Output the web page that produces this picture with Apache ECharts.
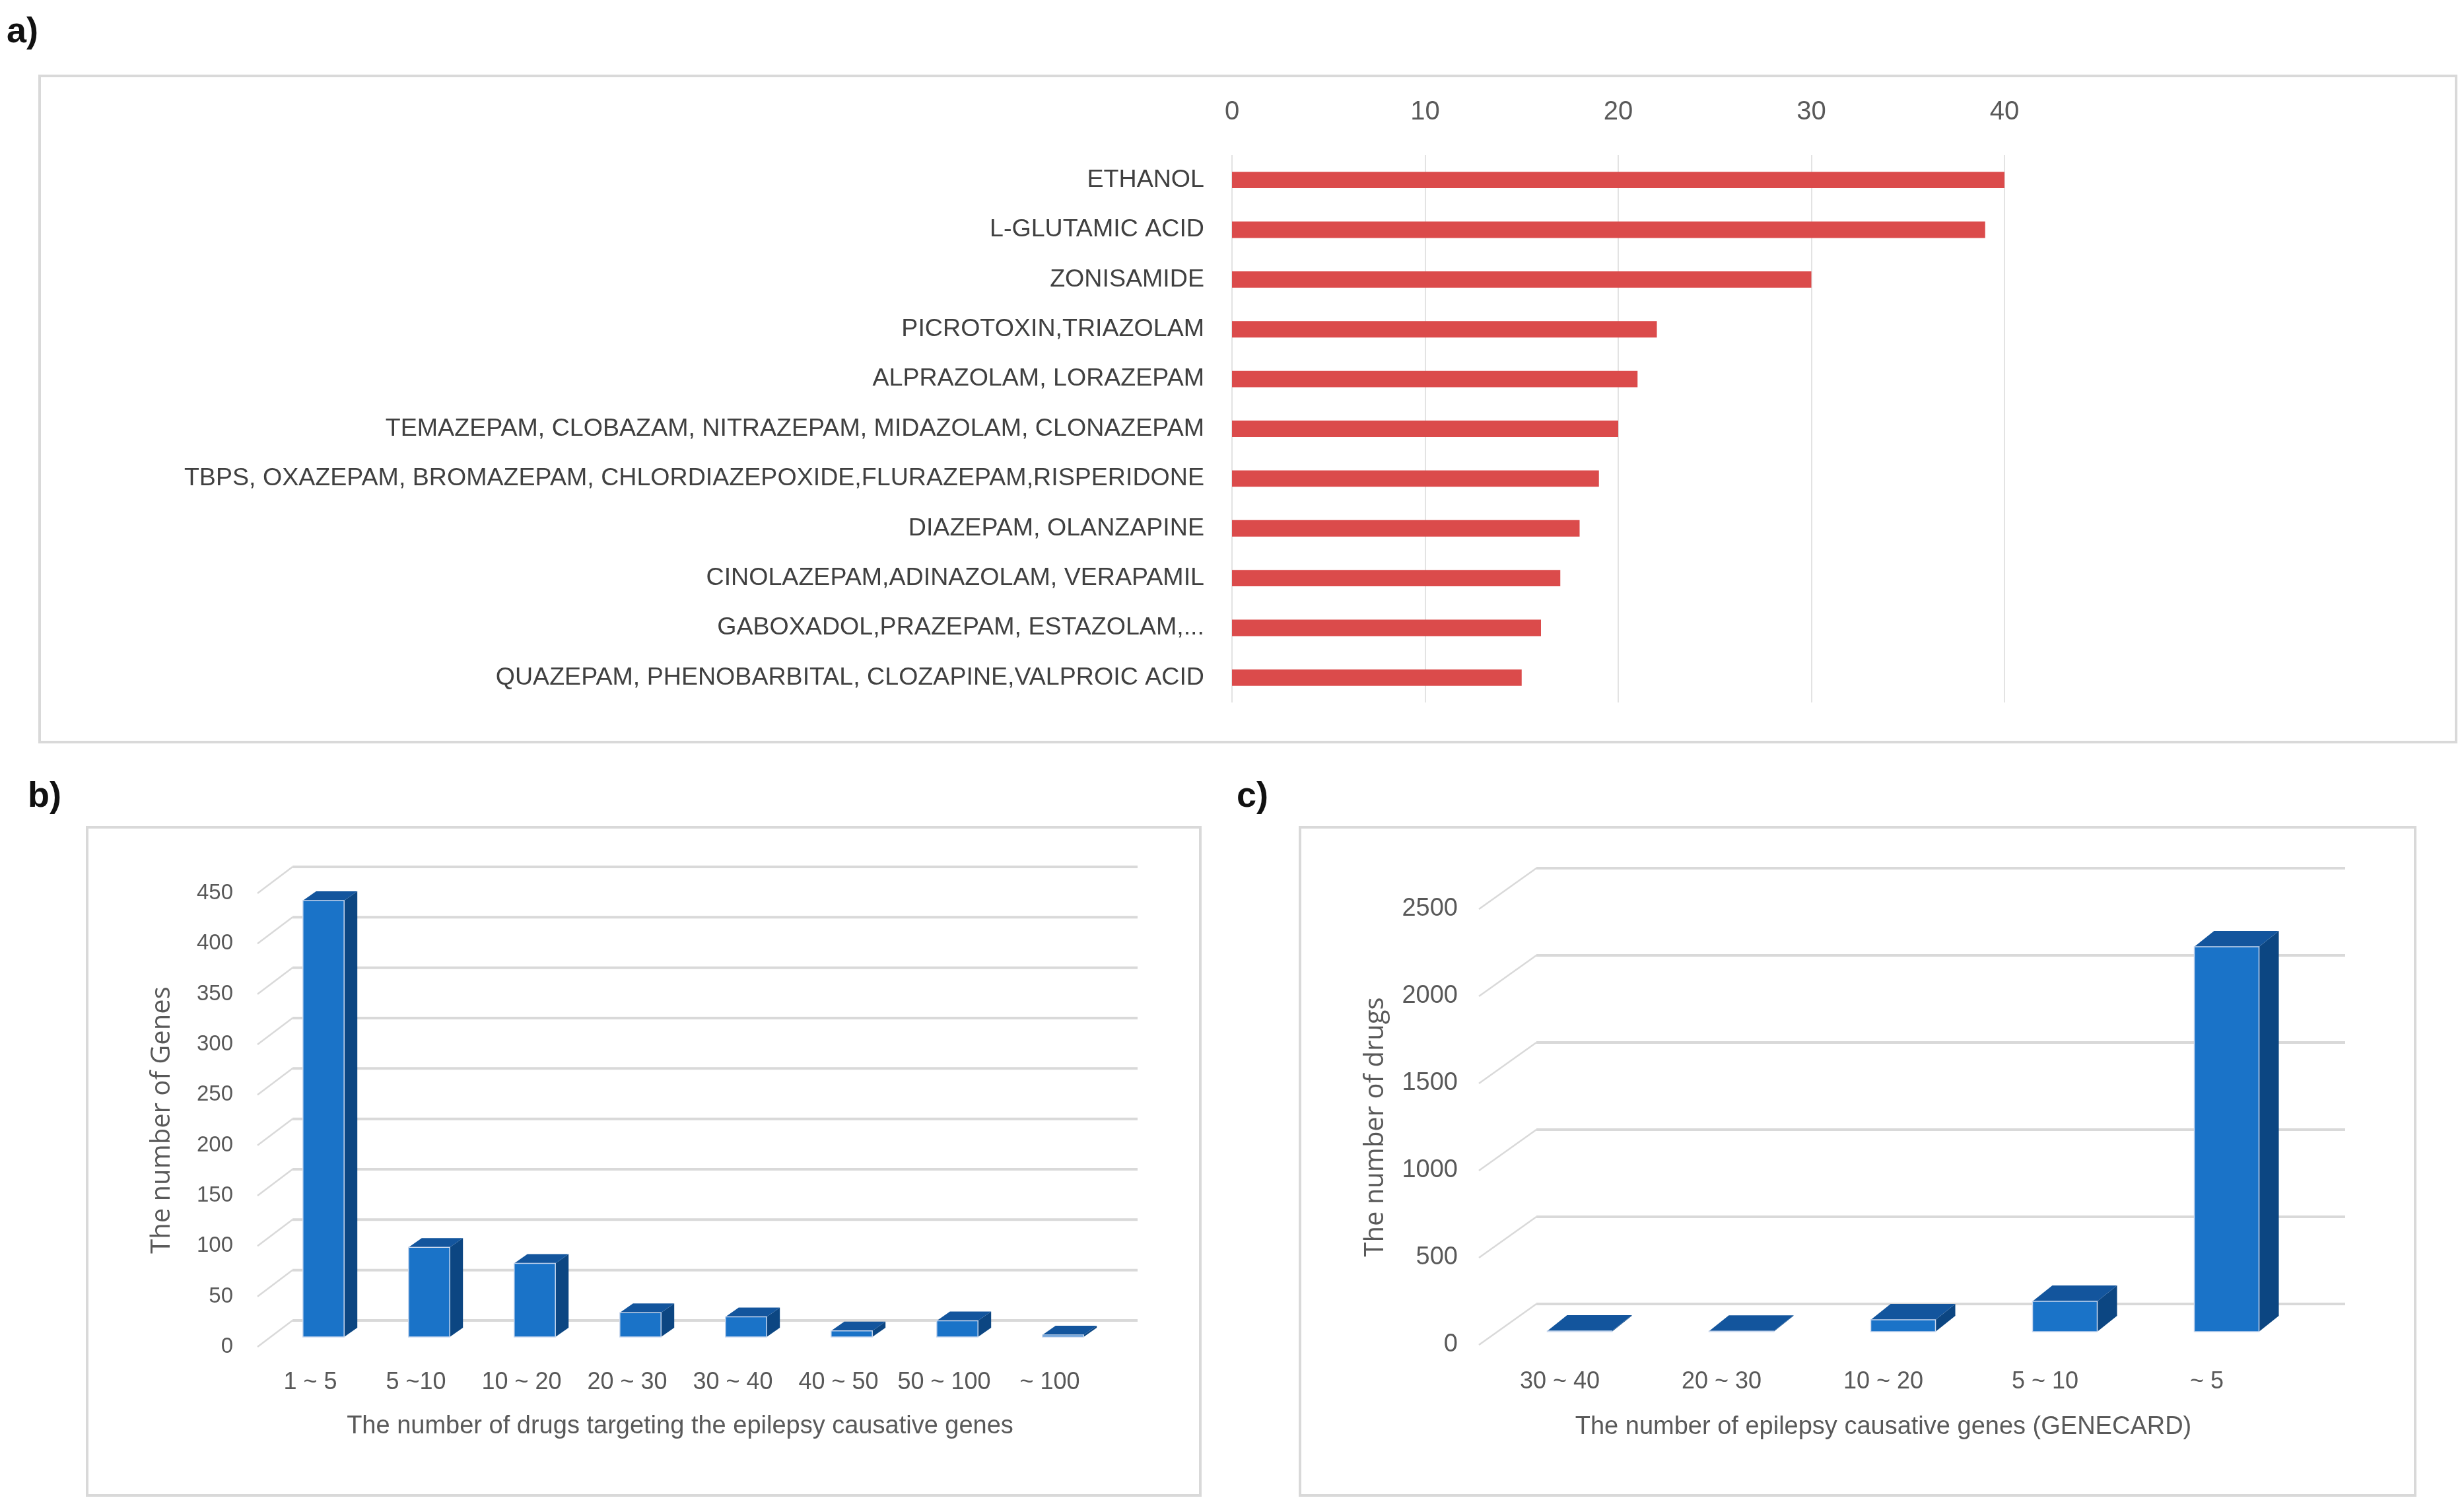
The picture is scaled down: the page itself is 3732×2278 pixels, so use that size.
<!DOCTYPE html>
<html>
<head>
<meta charset="utf-8">
<script src="https://cdn.jsdelivr.net/npm/echarts@6/dist/echarts.min.js"></script>
<style>
html,body{margin:0;padding:0;background:#fff;}
#main{width:3732px;height:2278px;}
</style>
</head>
<body>
<div id="main"></div>
<script>
// ---------- DATA ----------
const aCategories = [
  'ETHANOL',
  'L-GLUTAMIC ACID',
  'ZONISAMIDE',
  'PICROTOXIN,TRIAZOLAM',
  'ALPRAZOLAM, LORAZEPAM',
  'TEMAZEPAM, CLOBAZAM, NITRAZEPAM, MIDAZOLAM, CLONAZEPAM',
  'TBPS, OXAZEPAM, BROMAZEPAM, CHLORDIAZEPOXIDE,FLURAZEPAM,RISPERIDONE',
  'DIAZEPAM, OLANZAPINE',
  'CINOLAZEPAM,ADINAZOLAM, VERAPAMIL',
  'GABOXADOL,PRAZEPAM, ESTAZOLAM,...',
  'QUAZEPAM, PHENOBARBITAL, CLOZAPINE,VALPROIC ACID'
];
const aValues = [40, 39, 30, 22, 21, 20, 19, 18, 17, 16, 15];

const bCategories = ['1 ~ 5', '5 ~10', '10 ~ 20', '20 ~ 30', '30 ~ 40', '40 ~ 50', '50 ~ 100', '~ 100'];
const bValues = [433, 89, 73, 24, 20, 6, 16, 2];
const bTicks = [0, 50, 100, 150, 200, 250, 300, 350, 400, 450];

const cCategories = ['30 ~ 40', '20 ~ 30', '10 ~ 20', '5 ~ 10', '~ 5'];
const cValues = [4, 3, 68, 174, 2208];
const cTicks = [0, 500, 1000, 1500, 2000, 2500];

// ---------- STYLE ----------
const FONT = "'Liberation Sans', Arial, sans-serif";
const TITLE_FONT = "'Open Sans', 'DejaVu Sans', sans-serif";
const GRID_COLOR = '#d9d9d9';
const FRONT = '#1a73c8', SIDE = '#0c4682', TOP = '#13559d';

function wallRender(W, n) {
  return function (params, api) {
    const v = api.value(1);
    const p = api.coord([0, v]);
    const band = api.size([1, 0])[0];
    const xl = p[0] - band / 2;
    const xr = xl + band * n;
    return {
      type: 'group',
      children: [
        { type: 'line', shape: { x1: xl, y1: p[1], x2: xl + W[0], y2: p[1] + W[1] },
          style: { stroke: GRID_COLOR, lineWidth: 2.5 } },
        { type: 'line', shape: { x1: xl + W[0], y1: p[1] + W[1], x2: xr + W[0], y2: p[1] + W[1] },
          style: { stroke: GRID_COLOR, lineWidth: 4 } }
      ]
    };
  };
}

function barRender(F, D, frac) {
  return function (params, api) {
    const i = api.value(0), v = api.value(1);
    const base = api.coord([i, 0]);
    const top = api.coord([i, v]);
    const band = api.size([1, 0])[0];
    const w = band * frac;
    const x0 = base[0] + F[0] - w / 2, x1 = x0 + w;
    const yb = base[1] + F[1], yt = top[1] + F[1];
    return {
      type: 'group',
      children: [
        { type: 'polygon', shape: { points: [[x1, yt], [x1 + D[0], yt + D[1]], [x1 + D[0], yb + D[1]], [x1, yb]] },
          style: { fill: SIDE } },
        { type: 'polygon', shape: { points: [[x0, yt], [x0 + D[0], yt + D[1]], [x1 + D[0], yt + D[1]], [x1, yt]] },
          style: { fill: TOP } },
        { type: 'rect', shape: { x: x0, y: yt, width: w, height: Math.max(yb - yt, 0.5) },
          style: { fill: FRONT, stroke: '#c9d8ee', lineWidth: 1.5 } }
      ]
    };
  };
}

const chart = echarts.init(document.getElementById('main'), null, { renderer: 'canvas' });

const plain = v => String(v);

const option = {
  backgroundColor: '#ffffff',
  animation: false,
  graphic: [
    { type: 'rect', shape: { x: 60, y: 115, width: 3660, height: 1009 }, style: { fill: 'none', stroke: GRID_COLOR, lineWidth: 4 }, z: -10 },
    { type: 'rect', shape: { x: 132, y: 1253, width: 1686, height: 1012 }, style: { fill: 'none', stroke: GRID_COLOR, lineWidth: 4 }, z: -10 },
    { type: 'rect', shape: { x: 1969, y: 1253, width: 1689, height: 1012 }, style: { fill: 'none', stroke: GRID_COLOR, lineWidth: 4 }, z: -10 },
    { type: 'text', left: 10, top: 22, style: { text: 'a)', font: "bold 54px " + FONT, fill: '#111' } },
    { type: 'text', left: 42, top: 1180, style: { text: 'b)', font: "bold 54px " + FONT, fill: '#111' } },
    { type: 'text', left: 1873, top: 1180, style: { text: 'c)', font: "bold 54px " + FONT, fill: '#111' } }
  ],
  grid: [
    { left: 1866, top: 235, width: 1170, height: 829, outerBoundsMode: 'none' },
    { left: 390, top: 1353, width: 1280, height: 687, outerBoundsMode: 'none' },
    { left: 2240, top: 1377, width: 1225, height: 660, outerBoundsMode: 'none' }
  ],
  xAxis: [
    {
      gridIndex: 0, type: 'value', position: 'top', min: 0, max: 40, interval: 10,
      axisLine: { show: false }, axisTick: { show: false },
      axisLabel: { fontFamily: FONT, fontSize: 40, color: '#595959', margin: 45 },
      splitLine: { show: true, lineStyle: { color: '#e3e3e3', width: 2 } }
    },
    {
      gridIndex: 1, type: 'category', data: bCategories,
      axisLine: { show: false }, axisTick: { show: false },
      axisLabel: { interval: 0, fontFamily: FONT, fontSize: 36, color: '#595959', margin: 36 },
      splitLine: { show: false },
      name: 'The number of drugs targeting the epilepsy causative genes',
      nameLocation: 'middle', nameGap: 102,
      nameTextStyle: { fontFamily: FONT, fontSize: 38, color: '#595959' }
    },
    {
      gridIndex: 2, type: 'category', data: cCategories,
      axisLine: { show: false }, axisTick: { show: false },
      axisLabel: { interval: 0, fontFamily: FONT, fontSize: 36, color: '#595959', margin: 38 },
      splitLine: { show: false },
      name: 'The number of epilepsy causative genes (GENECARD)',
      nameLocation: 'middle', nameGap: 106,
      nameTextStyle: { fontFamily: FONT, fontSize: 38, color: '#595959' }
    }
  ],
  yAxis: [
    {
      gridIndex: 0, type: 'category', data: aCategories, inverse: true,
      axisLine: { show: false }, axisTick: { show: false },
      axisLabel: { interval: 0, fontFamily: FONT, fontSize: 37.6, color: '#404040', margin: 42 },
      splitLine: { show: false }
    },
    {
      gridIndex: 1, type: 'value', min: 0, max: 450, interval: 50,
      axisLine: { show: false }, axisTick: { show: false },
      axisLabel: { fontFamily: FONT, fontSize: 33, color: '#595959', margin: 37, formatter: plain },
      splitLine: { show: false },
      name: 'The number of Genes', nameLocation: 'middle', nameGap: 124,
      nameTextStyle: { fontFamily: TITLE_FONT, fontSize: 40, color: '#595959' }
    },
    {
      gridIndex: 2, type: 'value', min: 0, max: 2500, interval: 500,
      axisLine: { show: false }, axisTick: { show: false },
      axisLabel: { fontFamily: FONT, fontSize: 38, color: '#595959', margin: 32, formatter: plain },
      splitLine: { show: false },
      name: 'The number of drugs', nameLocation: 'middle', nameGap: 136,
      nameTextStyle: { fontFamily: TITLE_FONT, fontSize: 40, color: '#595959' }
    }
  ],
  series: [
    {
      type: 'bar', xAxisIndex: 0, yAxisIndex: 0, data: aValues,
      barWidth: '33%', itemStyle: { color: '#db4b4b' }
    },
    {
      type: 'custom', xAxisIndex: 1, yAxisIndex: 1, clip: false, z: 1,
      data: bTicks.map(v => [0, v]),
      encode: { x: 0, y: 1 },
      renderItem: wallRender([53, -40], bCategories.length)
    },
    {
      type: 'custom', xAxisIndex: 1, yAxisIndex: 1, clip: false, z: 5,
      data: bValues.map((v, i) => [i, v]),
      encode: { x: 0, y: 1 },
      renderItem: barRender([20, -15], [20, -14], 0.39)
    },
    {
      type: 'custom', xAxisIndex: 2, yAxisIndex: 2, clip: false, z: 1,
      data: cTicks.map(v => [0, v]),
      encode: { x: 0, y: 1 },
      renderItem: wallRender([87, -62], cCategories.length)
    },
    {
      type: 'custom', xAxisIndex: 2, yAxisIndex: 2, clip: false, z: 5,
      data: cValues.map((v, i) => [i, v]),
      encode: { x: 0, y: 1 },
      renderItem: barRender([30, -20], [30, -24], 0.4)
    }
  ]
};
chart.setOption(option);
</script>
</body>
</html>
